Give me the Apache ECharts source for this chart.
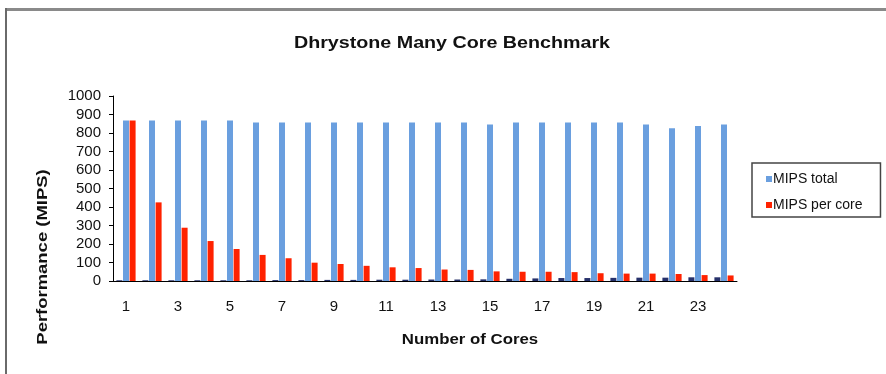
<!DOCTYPE html>
<html>
<head>
<meta charset="utf-8">
<script src="https://cdn.jsdelivr.net/npm/echarts@6/dist/echarts.min.js"></script>
<style>
  html, body { margin: 0; padding: 0; background: #fff; }
  #chart { width: 886px; height: 374px; }
</style>
</head>
<body>
<div id="chart"></div>
<script>
const cores = ["1","2","3","4","5","6","7","8","9","10","11","12","13","14","15","16","17","18","19","20","21","22","23","24"];
const mipsTotal = [868, 868, 868, 868, 868, 857, 857, 857, 857, 857, 857, 857, 857, 857, 846, 857, 857, 857, 857, 857, 846, 826, 838, 846];
const mipsPerCore = [868, 425, 288, 216, 173, 141, 123, 99, 92, 82, 74, 70, 62, 60, 52, 50, 50, 48, 42, 40, 40, 38, 32, 30];
// small dark bars next to each group (not in the legend)
const coreCount = [4, 4, 4, 4, 4, 4, 5, 5, 6, 6, 7, 7, 8, 8, 9, 12, 14, 16, 16, 17, 18, 18, 20, 20];
const yTicks = [0, 100, 200, 300, 400, 500, 600, 700, 800, 900, 1000];

const chart = echarts.init(document.getElementById("chart"));
const font = "Liberation Sans, Arial, Helvetica, sans-serif";

// the source picture is a bit stretched sideways, so the big texts get a scaleX
chart.setOption({
  animation: false,
  textStyle: { fontFamily: font },
  legend: {
    data: ["MIPS total", "MIPS per core"],
    orient: "vertical",
    left: 752,
    top: 163,
    itemWidth: 6,
    itemHeight: 6,
    itemGap: 12,
    icon: "rect",
    borderColor: "#444",
    borderWidth: 1.5,
    padding: [9, 18, 5, 14],
    textStyle: { fontSize: 14, color: "#111", padding: [0, 0, 0, -4] },
  },
  grid: { left: 113, right: 149, top: 96, bottom: 93 },
  xAxis: {
    type: "category",
    data: cores,
    axisLine: { lineStyle: { color: "#000", width: 1 } },
    axisTick: { alignWithLabel: false, interval: 0, length: 4, lineStyle: { color: "#000" } },
    axisLabel: { interval: 1, fontSize: 15, color: "#111", margin: 18 },
  },
  yAxis: {
    type: "value",
    min: yTicks[0],
    max: yTicks[yTicks.length - 1],
    interval: 100,
    splitLine: { show: false },
    axisLine: { show: true, lineStyle: { color: "#000", width: 1 } },
    axisTick: { show: true, length: 4, lineStyle: { color: "#000" } },
    axisLabel: { fontSize: 15, color: "#111", margin: 12, formatter: (v) => String(v) },
  },
  series: [
    {
      name: "Cores",
      type: "bar",
      data: coreCount,
      barWidth: 6,
      barGap: "10%",
      barCategoryGap: "27%",
      itemStyle: { color: "#26306a" },
    },
    {
      name: "MIPS total",
      type: "bar",
      data: mipsTotal,
      barWidth: 6,
      itemStyle: { color: "#6a9fdf" },
    },
    {
      name: "MIPS per core",
      type: "bar",
      data: mipsPerCore,
      barWidth: 6,
      itemStyle: { color: "#ff2200" },
    },
  ],
  graphic: [
    { type: "rect", shape: { x: 5, y: 8, width: 881, height: 3 }, style: { fill: "#8a8a8a" } },
    { type: "rect", shape: { x: 5, y: 8, width: 2, height: 366 }, style: { fill: "#6a6a6a" } },
    {
      type: "text", x: 452, y: 44, scaleX: 1.23,
      style: { text: "Dhrystone Many Core Benchmark", font: "bold 16px " + font, fill: "#111", align: "center", verticalAlign: "middle" },
    },
    {
      type: "text", x: 470, y: 340, scaleX: 1.12,
      style: { text: "Number of Cores", font: "bold 15px " + font, fill: "#111", align: "center", verticalAlign: "middle" },
    },
    {
      type: "text", x: 43, y: 257, scaleX: 1.23, rotation: Math.PI / 2,
      style: { text: "Performance (MIPS)", font: "bold 15px " + font, fill: "#111", align: "center", verticalAlign: "middle" },
    },
  ],
});
</script>
</body>
</html>
